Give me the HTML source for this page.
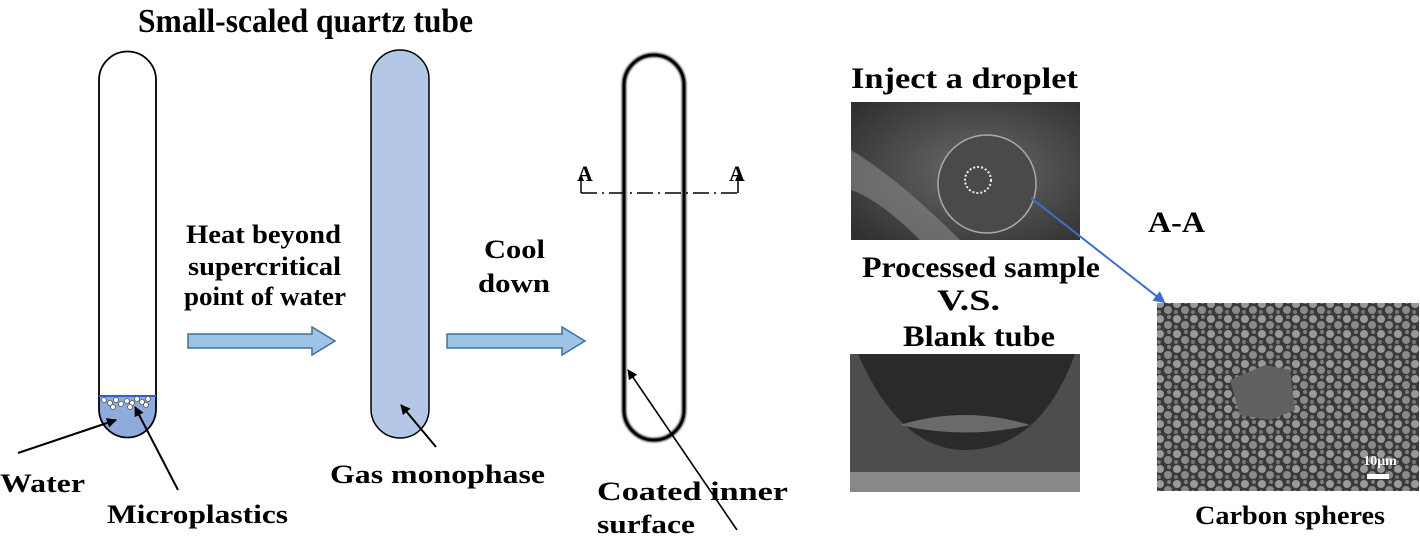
<!DOCTYPE html>
<html><head><meta charset="utf-8"><style>
body{margin:0;background:#fff;}
svg{display:block;font-family:"Liberation Serif",serif;font-weight:bold;}
</style></head><body>
<svg width="1420" height="541" viewBox="0 0 1420 541" xmlns="http://www.w3.org/2000/svg">
<defs>
<marker id="ah" markerWidth="10" markerHeight="10" refX="9" refY="5" orient="auto" markerUnits="userSpaceOnUse"><path d="M0,0 L10,5 L0,10 z" fill="#000"/></marker>
<marker id="ahb" markerWidth="12" markerHeight="12" refX="10" refY="6" orient="auto" markerUnits="userSpaceOnUse"><path d="M0,0 L12,6 L0,12 z" fill="#3a6fd0"/></marker>
<filter id="bl"><feGaussianBlur stdDeviation="1"/></filter>
<radialGradient id="p1" cx="0.55" cy="0.5" r="0.7"><stop offset="0" stop-color="#6a6a6a"/><stop offset="1" stop-color="#303030"/></radialGradient>
<pattern id="sp" width="17" height="15" patternUnits="userSpaceOnUse"><rect width="17" height="15" fill="#3a3a3a"/><circle cx="4" cy="4" r="4" fill="#9a9a9a"/><circle cx="12" cy="10" r="4" fill="#8a8a8a"/><circle cx="3" cy="12" r="2" fill="#777"/><circle cx="13" cy="2" r="2" fill="#808080"/></pattern>
</defs>
<g lengthAdjust="spacingAndGlyphs">
<text x="138" y="32" font-size="34" textLength="335" lengthAdjust="spacingAndGlyphs">Small-scaled quartz tube</text>
<g font-size="26">
<text x="186" y="243" textLength="155" lengthAdjust="spacingAndGlyphs">Heat beyond</text>
<text x="188" y="275" textLength="153" lengthAdjust="spacingAndGlyphs">supercritical</text>
<text x="184" y="305" textLength="162" lengthAdjust="spacingAndGlyphs">point of water</text>
<text x="484" y="258" textLength="61" lengthAdjust="spacingAndGlyphs">Cool</text>
<text x="478" y="292" textLength="72" lengthAdjust="spacingAndGlyphs">down</text>
<text x="0" y="492" textLength="85" lengthAdjust="spacingAndGlyphs">Water</text>
<text x="107" y="523" textLength="181" lengthAdjust="spacingAndGlyphs">Microplastics</text>
<text x="330" y="483" textLength="215" lengthAdjust="spacingAndGlyphs">Gas monophase</text>
<text x="597" y="500" textLength="191" lengthAdjust="spacingAndGlyphs">Coated inner</text>
<text x="597" y="533" textLength="98" lengthAdjust="spacingAndGlyphs">surface</text>
<text x="1195" y="524" textLength="190" lengthAdjust="spacingAndGlyphs">Carbon spheres</text>
</g>
<g font-size="30">
<text x="851" y="88" textLength="227" lengthAdjust="spacingAndGlyphs">Inject a droplet</text>
<text x="862" y="277" textLength="238" lengthAdjust="spacingAndGlyphs">Processed sample</text>
<text x="937" y="310" textLength="63" lengthAdjust="spacingAndGlyphs">V.S.</text>
<text x="903" y="346" textLength="152" lengthAdjust="spacingAndGlyphs">Blank tube</text>
<text x="1148" y="232" textLength="57" lengthAdjust="spacingAndGlyphs">A-A</text>
</g>
</g>
<!-- tube 1 -->
<path d="M99,396 L156,396 L156,409 A28.5,28.5 0 0 1 99,409 Z" fill="#8faadc"/>
<path d="M99,80 A28.5,28.5 0 0 1 156,80 L156,409 A28.5,28.5 0 0 1 99,409 Z" fill="none" stroke="#000" stroke-width="1.8"/>
<line x1="99" y1="396" x2="156" y2="396" stroke="#2f5fd0" stroke-width="2"/>
<g fill="#fff" stroke="#555" stroke-width="0.8">
<circle cx="104" cy="400" r="2.5"/><circle cx="110" cy="403" r="2.5"/><circle cx="116" cy="400" r="2.5"/><circle cx="121" cy="404" r="2.5"/><circle cx="127" cy="401" r="2.5"/><circle cx="132" cy="403" r="2.5"/><circle cx="137" cy="399" r="2.5"/><circle cx="142" cy="402" r="2.5"/><circle cx="148" cy="399" r="2.5"/><circle cx="113" cy="407" r="2.5"/><circle cx="130" cy="407" r="2.5"/><circle cx="146" cy="405" r="2.5"/>
</g>
<line x1="18" y1="453" x2="116" y2="420" stroke="#000" stroke-width="2" marker-end="url(#ah)"/>
<line x1="178" y1="490" x2="135" y2="407" stroke="#000" stroke-width="2" marker-end="url(#ah)"/>
<!-- tube 2 -->
<path d="M371,79 A29,29 0 0 1 429,79 L429,409 A29,29 0 0 1 371,409 Z" fill="#b4c7e7" stroke="#000" stroke-width="1.5"/>
<line x1="436" y1="447" x2="401" y2="405" stroke="#000" stroke-width="2" marker-end="url(#ah)"/>
<!-- tube 3 -->
<path d="M624,85 A30,30 0 0 1 684,85 L684,410 A30,30 0 0 1 624,410 Z" fill="none" stroke="#000" stroke-width="4" filter="url(#bl)"/>
<path d="M624,85 A30,30 0 0 1 684,85 L684,410 A30,30 0 0 1 624,410 Z" fill="none" stroke="#000" stroke-width="2.5"/>
<path d="M581,193 L581,176 M738,193 L738,176" stroke="#000" stroke-width="1.5"/>
<path d="M578,181 L581,174 L584,181 Z M735,181 L738,174 L741,181 Z" fill="#000"/>
<line x1="581" y1="193" x2="738" y2="193" stroke="#000" stroke-width="1.5" stroke-dasharray="16,5,2,5"/>
<text x="585" y="181" font-size="22" text-anchor="middle">A</text>
<text x="737" y="181" font-size="22" text-anchor="middle">A</text>
<line x1="737" y1="530" x2="628" y2="370" stroke="#000" stroke-width="1.6" marker-end="url(#ah)"/>
<!-- block arrows -->
<path d="M188,334 L312,334 L312,327 L335,341 L312,355 L312,348 L188,348 Z" fill="#9dc3e6" stroke="#41719c" stroke-width="1.5"/>
<path d="M447,334 L562,334 L562,327 L585,341 L562,355 L562,348 L447,348 Z" fill="#9dc3e6" stroke="#41719c" stroke-width="1.5"/>
<!-- photos -->
<rect x="851" y="102" width="229" height="138" fill="url(#p1)"/>
<path d="M851,150 Q900,180 960,240 L920,240 Q880,200 851,190 Z" fill="#888" opacity="0.6"/>
<circle cx="987" cy="184" r="49" fill="#4a4a4a" stroke="#aaa" stroke-width="1.5"/>
<circle cx="978" cy="180" r="13" fill="none" stroke="#eee" stroke-width="2" stroke-dasharray="2,2"/>
<rect x="850" y="354" width="230" height="138" fill="#2a2a2a"/>
<path d="M850,354 L858,354 Q900,450 965,450 Q1040,450 1075,354 L1080,354 L1080,492 L850,492 Z" fill="#4d4d4d"/>
<path d="M900,425 Q965,405 1030,425 Q965,440 900,425 Z" fill="#6a6a6a"/>
<rect x="850" y="472" width="230" height="20" fill="#888"/>
<line x1="1031" y1="198" x2="1164" y2="302" stroke="#3a6fd0" stroke-width="2" marker-end="url(#ahb)"/>
<rect x="1157" y="303" width="262" height="188" fill="url(#sp)"/>
<path d="M1230,380 L1265,365 L1290,370 L1295,410 L1270,420 L1240,415 Z" fill="#606060"/>
<text x="1380" y="465" font-size="14" fill="#fff" text-anchor="middle">10μm</text>
<rect x="1367" y="474" width="22" height="5" fill="#fff"/>
</svg>
</body></html>
